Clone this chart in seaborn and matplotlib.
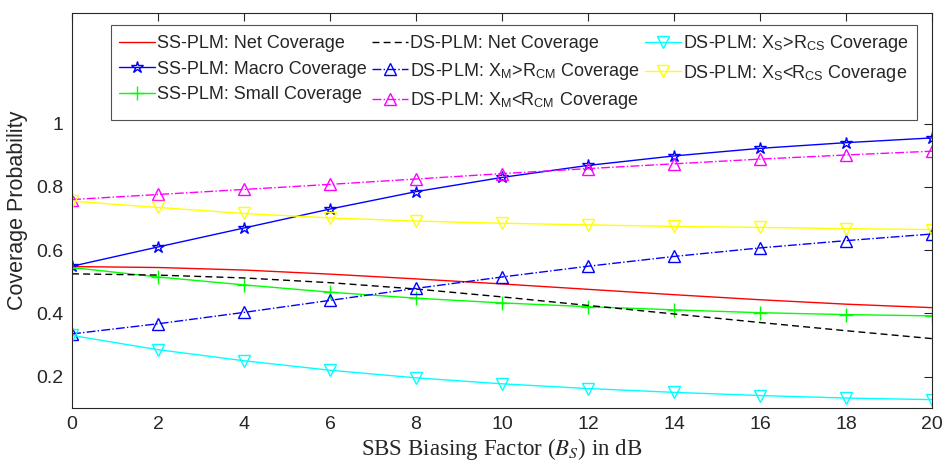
import numpy as np
import pandas as pd
import matplotlib
matplotlib.use('Agg')
import matplotlib.pyplot as plt
import seaborn as sns

# SBS biasing factor in dB
bias_db = [0, 2, 4, 6, 8, 10, 12, 14, 16, 18, 20]

# coverage probabilities
ss_net = [0.548, 0.545, 0.537, 0.524, 0.509, 0.493, 0.476, 0.459, 0.443, 0.429, 0.418]
ss_macro = [0.549, 0.610, 0.670, 0.730, 0.785, 0.830, 0.868, 0.898, 0.922, 0.940, 0.955]
ss_small = [0.545, 0.515, 0.490, 0.467, 0.448, 0.433, 0.421, 0.411, 0.402, 0.396, 0.392]
ds_net = [0.525, 0.521, 0.512, 0.497, 0.477, 0.452, 0.425, 0.398, 0.371, 0.345, 0.320]
ds_xm_gt = [0.335, 0.367, 0.403, 0.441, 0.479, 0.515, 0.549, 0.580, 0.607, 0.630, 0.651]
ds_xm_lt = [0.760, 0.776, 0.792, 0.808, 0.825, 0.842, 0.858, 0.873, 0.888, 0.901, 0.913]
ds_xs_gt = [0.330, 0.285, 0.250, 0.220, 0.196, 0.177, 0.162, 0.150, 0.140, 0.132, 0.127]
ds_xs_lt = [0.755, 0.735, 0.716, 0.702, 0.692, 0.685, 0.680, 0.675, 0.672, 0.668, 0.665]

labels = [
    'SS-PLM: Net Coverage',
    'SS-PLM: Macro Coverage',
    'SS-PLM: Small Coverage',
    'DS-PLM: Net Coverage',
    r'DS-PLM: X$_\mathregular{M}$>R$_\mathregular{CM}$ Coverage',
    r'DS-PLM: X$_\mathregular{M}$<R$_\mathregular{CM}$ Coverage',
    r'DS-PLM: X$_\mathregular{S}$>R$_\mathregular{CS}$ Coverage',
    r'DS-PLM: X$_\mathregular{S}$<R$_\mathregular{CS}$ Coverage',
]
series = [ss_net, ss_macro, ss_small, ds_net, ds_xm_gt, ds_xm_lt, ds_xs_gt, ds_xs_lt]

# style per series: color, linestyle, marker
styles = [
    ('#ff0000', '-', None),
    ('#0000ff', '-', '*'),
    ('#00ff00', '-', '+'),
    ('#000000', (0, (5, 3)), None),
    ('#0000ff', '-.', '^'),
    ('#ff00ff', '-.', '^'),
    ('#00ffff', '-', 'v'),
    ('#ffff00', '-', 'v'),
]

sns.set_style('white')
plt.rcParams['font.family'] = ['Liberation Sans', 'DejaVu Sans']
plt.rcParams['mathtext.fontset'] = 'stix'

fig = plt.figure(figsize=(9.44, 4.67), dpi=100)
ax = fig.add_axes([0.0763, 0.126, 0.911, 0.846])

for lab, vals, (col, ls, mk) in zip(labels, series, styles):
    df = pd.DataFrame({'bias': bias_db, 'cov': vals})
    sns.lineplot(data=df, x='bias', y='cov', ax=ax, color=col, linestyle=ls,
                 marker=mk, markersize=9 if mk != '+' else 10,
                 markerfacecolor='none', markeredgecolor=col, markeredgewidth=1.0,
                 linewidth=1.0, label=lab)

ax.set_xlim(0, 20)
ax.set_ylim(0.1, 1.35)
ax.set_xticks(bias_db)
ax.set_yticks([0.2, 0.4, 0.6, 0.8, 1.0])
ax.set_yticklabels(['0.2', '0.4', '0.6', '0.8', '1'])
ax.tick_params(direction='in', top=True, right=True, length=6, width=0.8,
               labelsize=14, colors='#262626', pad=6)
for sp in ax.spines.values():
    sp.set_color('#262626')
    sp.set_linewidth(0.8)

ax.set_xlabel(r'SBS Biasing Factor ($B_S$) in dB', family='Liberation Serif',
              fontsize=16.5, color='#262626', labelpad=2)
ax.set_ylabel('Coverage Probability', fontsize=15.5, color='#262626', labelpad=6)

leg = ax.legend(ncol=3, loc='upper left', bbox_to_anchor=(0.045, 0.97),
                fontsize=13, frameon=True, fancybox=False, edgecolor='#262626',
                handlelength=2.0, handletextpad=0.1, columnspacing=0.3,
                labelspacing=0.48, borderpad=0.45, borderaxespad=0)
leg.get_frame().set_linewidth(0.8)

fig.savefig('out.png', dpi=100)
